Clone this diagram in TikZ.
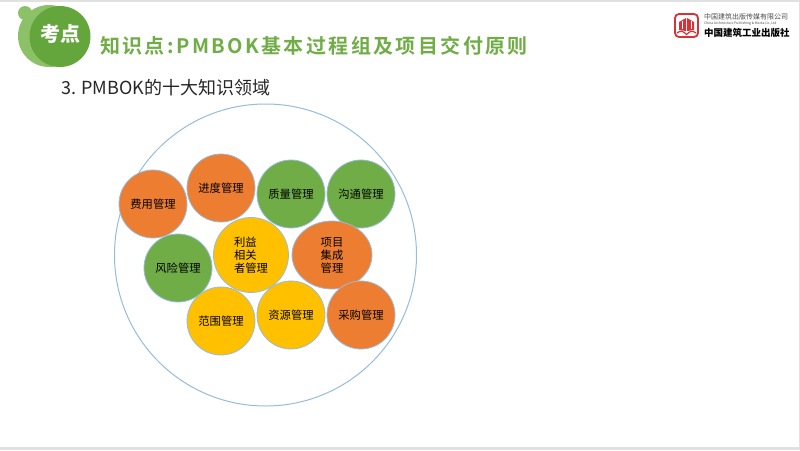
\documentclass[tikz,border=0pt]{standalone}
\usepackage{fontspec}
\setmainfont{Noto Sans CJK SC}
\newfontfamily\titlefont[LetterSpace=12,BoldFont={Noto Sans CJK SC Bold}]{Noto Sans CJK SC}
\usepackage{tikz}
\usetikzlibrary{shapes.geometric}
\definecolor{myorange}{RGB}{237,125,49}
\definecolor{mygreen}{RGB}{112,173,71}
\definecolor{mygold}{RGB}{255,192,0}
\definecolor{myblue}{RGB}{150,188,220}
\definecolor{mypale}{RGB}{141,193,104}
\definecolor{mybadge}{RGB}{100,166,60}
\definecolor{mylogo}{RGB}{215,50,55}
\definecolor{mygrey}{RGB}{225,225,225}

\begin{document}
\begin{tikzpicture}[x=1pt,y=-1pt,
    area/.style={circle,draw=myblue,line width=0.8pt,minimum size=68pt,inner sep=0pt,
        align=center,font=\fontsize{11.3}{13}\selectfont,text=black},
    logotext/.style={anchor=west,inner sep=0pt,text=black!70}]
    \useasboundingbox (0,0) rectangle (800,450);
    % Page edges
    \fill[mygrey] (0,0) rectangle (800,2);
    \fill[mygrey] (0,447) rectangle (800,450);
    \fill[mygrey] (799,0) rectangle (800,450);
    % Badge
    \fill[mypale] (49,36) circle (31);
    \fill[mypale] (25,13) circle (7);
    \fill[mybadge] (60,36.5) circle (30.5);
    \node[text=white,font=\fontsize{20}{20}\selectfont\bfseries,inner sep=0pt] (badge) at (60,34) {考点};
    % Headings
    \node[anchor=west,inner sep=0pt,text=mygreen,font=\fontsize{20}{20}\selectfont\titlefont\bfseries] (title) at (100,46)
        {知识点:PMBOK基本过程组及项目交付原则};
    \node[anchor=west,inner sep=0pt,text=black!85,font=\fontsize{18}{18}\selectfont] (subtitle) at (61,88)
        {3. PMBOK的十大知识领域};
    % Logo
    \draw[mylogo,line width=1.8pt,rounded corners=4pt] (675,14) rectangle (698,37);
    \fill[mylogo] (679,30) -- (679,22) -- (686,18) -- (686,31) -- cycle;
    \fill[mylogo] (694,30) -- (694,22) -- (687,18) -- (687,31) -- cycle;
    \draw[white,line width=0.7pt] (682,20.5) -- (682,29) (691,20.5) -- (691,29);
    \draw[mylogo,line width=1.2pt] (677,33) .. controls (681,30) and (683,31) .. (686.5,34.5) .. controls (690,31) and (692,30) .. (696,33);
    \node[logotext,font=\fontsize{7}{7}\selectfont] (logoa) at (704,16.5) {中国建筑出版传媒有限公司};
    \node[logotext,font=\fontsize{3.4}{4}\selectfont] (logob) at (704,24) {China Architecture Publishing \& Media Co.,Ltd};
    \node[logotext,text=black,font=\fontsize{9.5}{10}\selectfont\bfseries] (logoc) at (704,33) {中国建筑工业出版社};
    % Outer circle
    \node[circle,draw=myblue,line width=1pt,minimum size=302pt,inner sep=0pt] (outer) at (265.5,255) {};
    % Knowledge areas
    \node[area,fill=myorange] (cost) at (153,204) {费用管理};
    \node[area,fill=myorange] (schedule) at (221,188) {进度管理};
    \node[area,fill=mygreen] (quality) at (291,194) {质量管理};
    \node[area,fill=mygreen] (comm) at (361,194) {沟通管理};
    \node[area,fill=mygreen] (risk) at (178,268) {风险管理};
    \node[area,fill=mygold,minimum size=75pt,align=left] (stake) at (251,255) {利益\\相关\\者管理};
    \node[area,ellipse,fill=myorange,minimum width=80pt,minimum height=68pt] (integ) at (332,255) {项目\\集成\\管理};
    \node[area,fill=mygold] (scope) at (221,321) {范围管理};
    \node[area,fill=mygold] (resource) at (291,315) {资源管理};
    \node[area,fill=myorange] (procure) at (361,315) {采购管理};
\end{tikzpicture}
\end{document}
